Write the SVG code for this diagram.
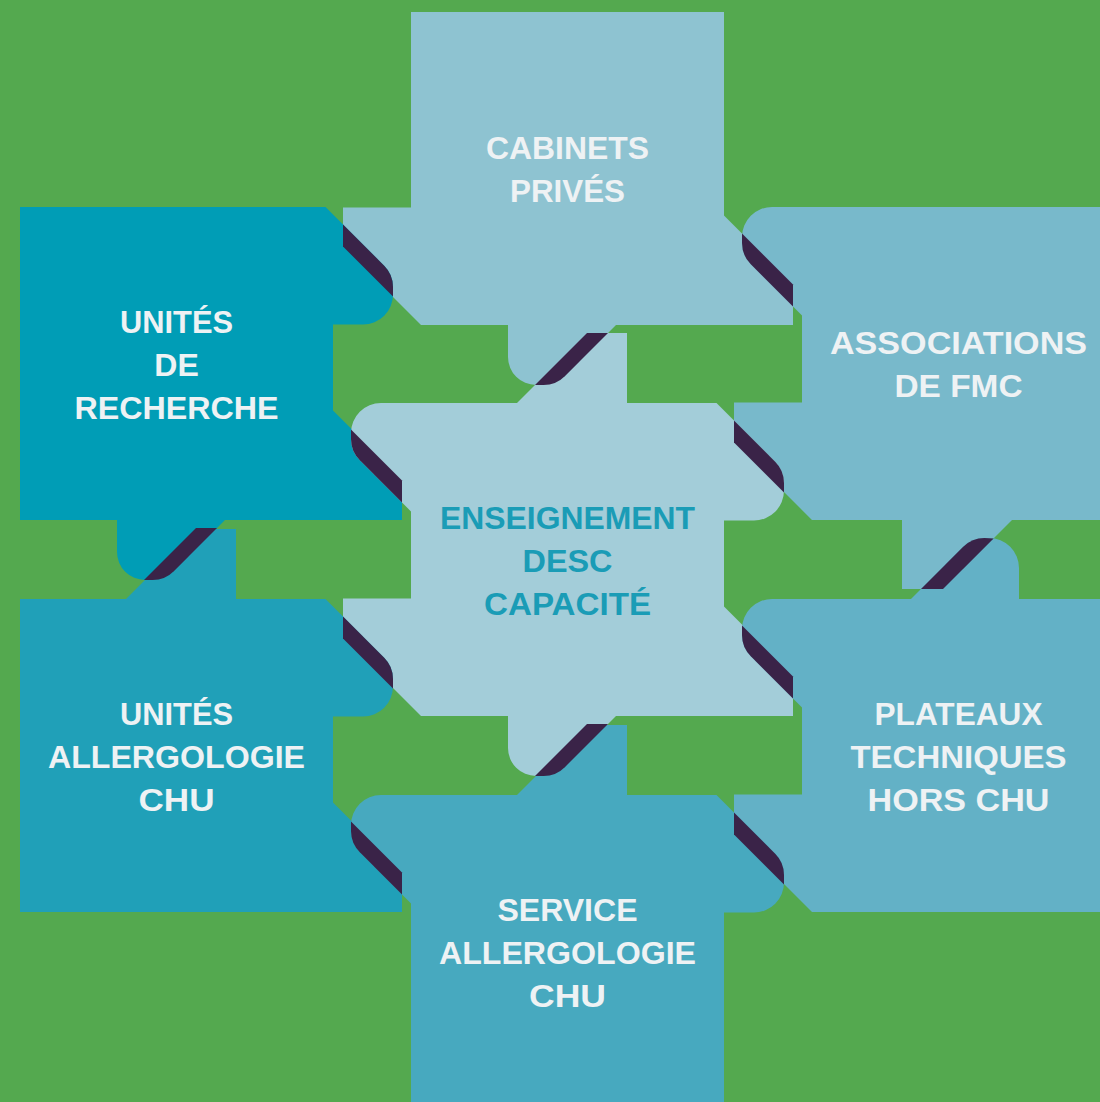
<svg xmlns="http://www.w3.org/2000/svg" xmlns:xlink="http://www.w3.org/1999/xlink" width="1100" height="1102" viewBox="0 0 1100 1102">
<style>
.lbl{font-family:"Liberation Sans",Arial,sans-serif;font-weight:bold;font-size:32px;text-anchor:middle;fill:#eef2f4}
.ctr{fill:#1a9cb6}
.band{fill:#3a2348}
</style>
<defs>
<path id="bandUR" d="M 323 17.5 L 364.2 58.7 Q 373 67.5 373 79.9 L 373 89.5 L 323 39.5 Z"/>
<path id="bandUL" d="M -60 26.5 L -9 77.5 L -9 99.5 L -51.2 57.3 Q -60 48.5 -60 36.1 Z"/>
<path id="bandDN" d="M 176 321 L 197 321 L 153.8 364.2 Q 145 373 132.6 373 L 124 373 Z"/>
<path id="bandUP" d="M 119 -10 L 141 -10 L 191.6 -60.6 L 182.4 -61 Q 170 -61 161.2 -52.2 Z"/>
</defs>
<rect width="1100" height="1102" fill="#54a94f"/>
<g id="cabinets" transform="translate(411,12)">
<path fill="#8ec3d1" d="M 0 0 L 313 0 L 313 203.5 L 382 272.5 L 382 313 L 205 313 L 153.8 364.2 Q 145 373 132.6 373 L 125 373 A 28 28 0 0 1 97 345 L 97 313 L 10 313 L -68 235 L -68 195.5 L 0 195.5 Z"/>
<text class="lbl" x="156.5" y="146.5" textLength="163" lengthAdjust="spacingAndGlyphs">CABINETS</text>
<text class="lbl" x="156.5" y="189.5" textLength="115" lengthAdjust="spacingAndGlyphs">PRIVÉS</text>
</g>
<g id="recherche" transform="translate(20,207)">
<path fill="#009db6" d="M 0 0 L 305.5 0 L 364.2 58.7 Q 373 67.5 373 79.9 L 373 87.5 A 30 30 0 0 1 343 117.5 L 313 117.5 L 313 203.5 L 382 272.5 L 382 313 L 205 313 L 153.8 364.2 Q 145 373 132.6 373 L 125 373 A 28 28 0 0 1 97 345 L 97 313 L 0 313 Z"/>
<text class="lbl" x="156.5" y="125.5" textLength="113" lengthAdjust="spacingAndGlyphs">UNITÉS</text>
<text class="lbl" x="156.5" y="168.5">DE</text>
<text class="lbl" x="156.5" y="211.5" textLength="204" lengthAdjust="spacingAndGlyphs">RECHERCHE</text>
</g>
<g id="associations" transform="translate(802,207)">
<path fill="#78b9cb" d="M -30 0 L 313 0 L 313 313 L 210 313 L 141 382 L 100 382 L 100 313 L 10 313 L -68 235 L -68 195.5 L 0 195.5 L 0 108.5 L -51.2 57.3 Q -60 48.5 -60 36.1 L -60 30 A 30 30 0 0 1 -30 0 Z"/>
<text class="lbl" x="156.5" y="146.5" textLength="257" lengthAdjust="spacingAndGlyphs">ASSOCIATIONS</text>
<text class="lbl" x="156.5" y="189.5" textLength="128" lengthAdjust="spacingAndGlyphs">DE FMC</text>
</g>
<g id="enseignement" transform="translate(411,403)">
<path fill="#a3cdd9" d="M -30 0 L 106 0 L 176 -70 L 216 -70 L 216 0 L 305.5 0 L 364.2 58.7 Q 373 67.5 373 79.9 L 373 87.5 A 30 30 0 0 1 343 117.5 L 313 117.5 L 313 203.5 L 382 272.5 L 382 313 L 205 313 L 153.8 364.2 Q 145 373 132.6 373 L 125 373 A 28 28 0 0 1 97 345 L 97 313 L 10 313 L -68 235 L -68 195.5 L 0 195.5 L 0 108.5 L -51.2 57.3 Q -60 48.5 -60 36.1 L -60 30 A 30 30 0 0 1 -30 0 Z"/>
<text class="lbl ctr" x="156.5" y="125.5" textLength="255" lengthAdjust="spacingAndGlyphs">ENSEIGNEMENT</text>
<text class="lbl ctr" x="156.5" y="168.5" textLength="90" lengthAdjust="spacingAndGlyphs">DESC</text>
<text class="lbl ctr" x="156.5" y="211.5" textLength="167" lengthAdjust="spacingAndGlyphs">CAPACITÉ</text>
</g>
<g id="allergo-chu" transform="translate(20,599)">
<path fill="#20a0b8" d="M 0 0 L 106 0 L 176 -70 L 216 -70 L 216 0 L 305.5 0 L 364.2 58.7 Q 373 67.5 373 79.9 L 373 87.5 A 30 30 0 0 1 343 117.5 L 313 117.5 L 313 203.5 L 382 272.5 L 382 313 L 0 313 Z"/>
<text class="lbl" x="156.5" y="125.5" textLength="113" lengthAdjust="spacingAndGlyphs">UNITÉS</text>
<text class="lbl" x="156.5" y="168.5" textLength="257" lengthAdjust="spacingAndGlyphs">ALLERGOLOGIE</text>
<text class="lbl" x="156.5" y="211.5" textLength="76" lengthAdjust="spacingAndGlyphs">CHU</text>
</g>
<g id="plateaux" transform="translate(802,599)">
<path fill="#63b1c6" d="M -30 0 L 109 0 L 161.2 -52.2 Q 170 -61 182.4 -61 L 187 -61 A 30 30 0 0 1 217 -31 L 217 0 L 313 0 L 313 313 L 10 313 L -68 235 L -68 195.5 L 0 195.5 L 0 108.5 L -51.2 57.3 Q -60 48.5 -60 36.1 L -60 30 A 30 30 0 0 1 -30 0 Z"/>
<text class="lbl" x="156.5" y="125.5" textLength="168" lengthAdjust="spacingAndGlyphs">PLATEAUX</text>
<text class="lbl" x="156.5" y="168.5" textLength="216" lengthAdjust="spacingAndGlyphs">TECHNIQUES</text>
<text class="lbl" x="156.5" y="211.5" textLength="182" lengthAdjust="spacingAndGlyphs">HORS CHU</text>
</g>
<g id="service" transform="translate(411,795)">
<path fill="#47a9bf" d="M -30 0 L 106 0 L 176 -70 L 216 -70 L 216 0 L 305.5 0 L 364.2 58.7 Q 373 67.5 373 79.9 L 373 87.5 A 30 30 0 0 1 343 117.5 L 313 117.5 L 313 313 L 0 313 L 0 108.5 L -51.2 57.3 Q -60 48.5 -60 36.1 L -60 30 A 30 30 0 0 1 -30 0 Z"/>
<text class="lbl" x="156.5" y="125.5" textLength="140" lengthAdjust="spacingAndGlyphs">SERVICE</text>
<text class="lbl" x="156.5" y="168.5" textLength="257" lengthAdjust="spacingAndGlyphs">ALLERGOLOGIE</text>
<text class="lbl" x="156.5" y="211.5" textLength="77" lengthAdjust="spacingAndGlyphs">CHU</text>
</g>
<g id="connectors" class="band">
<use xlink:href="#bandUR" transform="translate(20,207)"/>
<use xlink:href="#bandDN" transform="translate(20,207)"/>
<use xlink:href="#bandDN" transform="translate(411,12)"/>
<use xlink:href="#bandUL" transform="translate(802,207)"/>
<use xlink:href="#bandUL" transform="translate(411,403)"/>
<use xlink:href="#bandUR" transform="translate(411,403)"/>
<use xlink:href="#bandDN" transform="translate(411,403)"/>
<use xlink:href="#bandUR" transform="translate(20,599)"/>
<use xlink:href="#bandUL" transform="translate(802,599)"/>
<use xlink:href="#bandUP" transform="translate(802,599)"/>
<use xlink:href="#bandUL" transform="translate(411,795)"/>
<use xlink:href="#bandUR" transform="translate(411,795)"/>
</g>
</svg>
